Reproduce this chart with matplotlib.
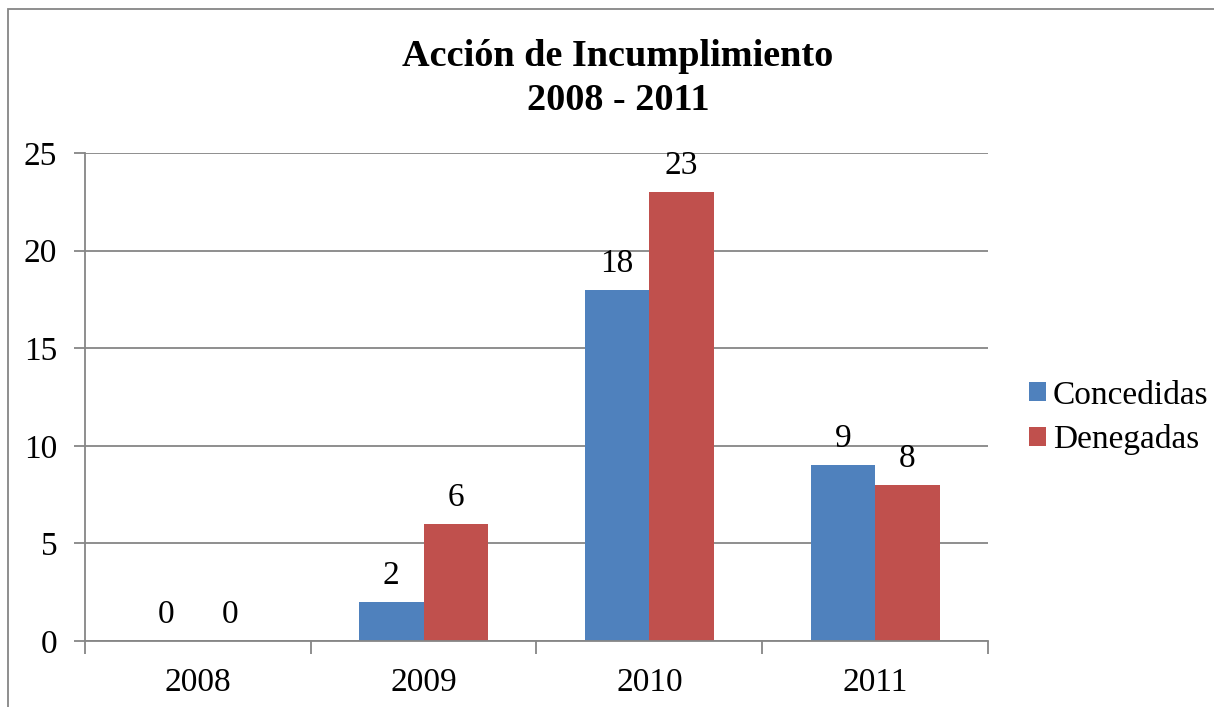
import matplotlib.pyplot as plt
import numpy as np
from matplotlib.patches import Rectangle

years = ["2008", "2009", "2010", "2011"]
concedidas = [0, 2, 18, 9]
denegadas = [0, 6, 23, 8]
yticks = [0, 5, 10, 15, 20, 25]

plt.rcParams["font.family"] = ["Liberation Serif", "DejaVu Serif"]
grey = "#868686"
fs = 24

fig = plt.figure(figsize=(12.14, 7.07), dpi=100)
ax = fig.add_axes([0.0700, 0.0934, 0.7438, 0.6902])

x = np.arange(len(years))
w = 0.286
b1 = ax.bar(x - w / 2, concedidas, w, color="#4F81BD", label="Concedidas")
b2 = ax.bar(x + w / 2, denegadas, w, color="#C0504D", label="Denegadas")
for bars in (b1, b2):
    ax.bar_label(bars, padding=8, fontsize=fs)

ax.set_xlim(-0.5, len(years) - 0.5)
ax.set_ylim(0, 25)
ax.set_yticks(yticks)
ax.set_xticks(x)
ax.set_xticklabels(years)
ax.set_xticks(np.arange(len(years) + 1) - 0.5, minor=True)
ax.tick_params(axis="x", which="major", length=0, pad=19, labelsize=fs)
ax.tick_params(axis="x", which="minor", length=9, color=grey, width=1.3)
ax.tick_params(axis="y", length=8, color=grey, width=1.3, pad=12, labelsize=fs)
ax.grid(axis="y", color=grey, linewidth=1.3)
ax.set_axisbelow(True)
for s in ("top", "right"):
    ax.spines[s].set_visible(False)
for s in ("left", "bottom"):
    ax.spines[s].set_color(grey)
    ax.spines[s].set_linewidth(1.3)

fig.text(0.509, 0.889, "Acción de Incumplimiento\n2008 - 2011", ha="center", va="center",
         fontsize=27.5, fontweight="bold", linespacing=1.3)

ax.legend(loc="center left", bbox_to_anchor=(1.031, 0.458), frameon=False, fontsize=fs,
          borderaxespad=0, handlelength=0.5, handleheight=0.5, handletextpad=0.2,
          labelspacing=0.4)

fig.patches.append(Rectangle((8 / 1214, -0.1), 1.2, 1 - 9 / 707 + 0.1, transform=fig.transFigure,
                             fill=False, edgecolor=grey, linewidth=1.3))

fig.savefig("out.png", dpi=100)
